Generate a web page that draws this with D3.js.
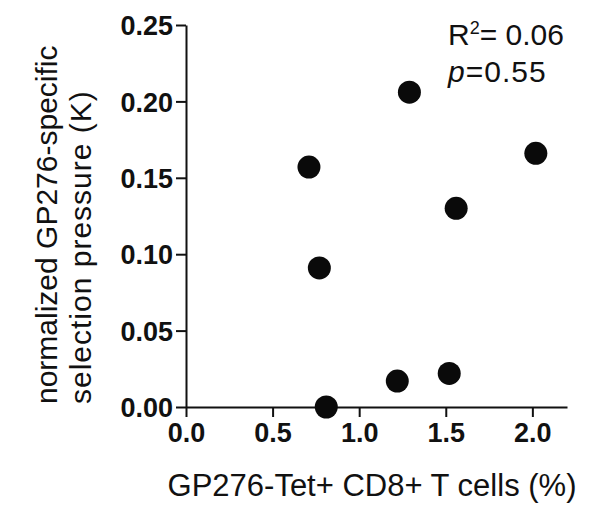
<!DOCTYPE html>
<html>
<head>
<meta charset="utf-8">
<script src="https://cdn.jsdelivr.net/npm/d3@7"></script>
<style>
  body { margin: 0; background: #fff; }
  svg text { font-family: "Liberation Sans", Arial, Helvetica, sans-serif; }
</style>
</head>
<body>
<svg class="chart"></svg>
<script>
// values
var tetPercent = [0.71, 0.77, 0.81, 1.22, 1.29, 1.52, 1.56, 2.02];
var selPressure = [0.157, 0.091, 0.000, 0.017, 0.206, 0.022, 0.130, 0.166];
var xTicks = [0, 0.5, 1.0, 1.5, 2.0];
var yTicks = [0, 0.05, 0.10, 0.15, 0.20, 0.25];
var statLines = ["R", "= 0.06", "p", "=0.55"];

var width = 601;
var height = 517;
var margin = {top: 25, right: 34, bottom: 110, left: 186};

var svg = d3.select(".chart").attr("width", width).attr("height", height);

var x = d3.scaleLinear().domain([0, 2.2]).range([margin.left, width - margin.right]);
var y = d3.scaleLinear().domain([0, 0.25]).range([height - margin.bottom, margin.top]);

var data = tetPercent.map(function(d, i) { return {x: d, y: selPressure[i]}; });

// axes
var xAxis = svg.append("g")
    .attr("transform", "translate(0," + y(0) + ")")
    .call(d3.axisBottom(x).tickValues(xTicks).tickFormat(d3.format(".1f"))
      .tickSize(10).tickSizeOuter(0).tickPadding(6));

var yAxis = svg.append("g")
    .attr("transform", "translate(" + x(0) + ",0)")
    .call(d3.axisLeft(y).tickValues(yTicks).tickFormat(d3.format(".2f"))
      .tickSize(10).tickSizeOuter(0).tickPadding(3));

[xAxis, yAxis].forEach(function(ax) {
  ax.selectAll("path, line").attr("stroke", "#111").attr("stroke-width", 2);
  ax.selectAll("text")
    .attr("fill", "#111")
    .style("font-size", "27px")
    .style("font-weight", "bold");
});
yAxis.selectAll("text").attr("dy", "0.36em");

// points
svg.append("g").selectAll("circle")
    .data(data)
  .enter().append("circle")
    .attr("cx", function(d) { return x(d.x); })
    .attr("cy", function(d) { return y(d.y); })
    .attr("r", 11.5)
    .attr("fill", "#0a0a0a");

// axis titles
svg.append("text")
    .attr("x", 372)
    .attr("y", 496)
    .attr("text-anchor", "middle")
    .style("font-size", "31px")
    .attr("fill", "#111")
    .text("GP276-Tet+ CD8+ T cells (%)");

var yTitle = svg.append("text")
    .attr("transform", "translate(0,404) rotate(-90)")
    .attr("text-anchor", "start")
    .style("font-size", "30px")
    .attr("fill", "#111");
yTitle.append("tspan").attr("x", 0).attr("y", 57).text("normalized GP276-specific");
yTitle.append("tspan").attr("x", 0).attr("y", 91)
    .style("letter-spacing", "1px")
    .text("selection pressure (K)");

// stats annotation
var r2 = svg.append("text")
    .attr("x", 448).attr("y", 45)
    .style("font-size", "30px")
    .attr("fill", "#111");
r2.append("tspan").text(statLines[0]);
r2.append("tspan").attr("dy", -11).style("font-size", "18px").text("2");
r2.append("tspan").attr("dy", 11).text(statLines[1]);

var pv = svg.append("text")
    .attr("x", 448).attr("y", 82)
    .style("font-size", "30px")
    .style("letter-spacing", "1px")
    .attr("fill", "#111");
pv.append("tspan").style("font-style", "italic").text(statLines[2]);
pv.append("tspan").text(statLines[3]);
</script>
</body>
</html>
